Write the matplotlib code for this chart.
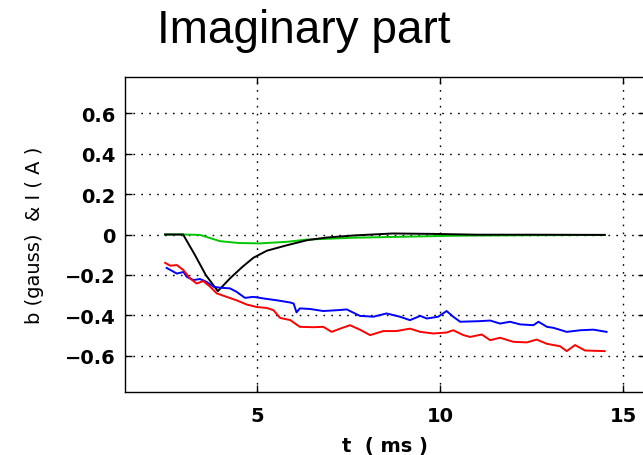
import matplotlib
matplotlib.use("Agg")
import matplotlib.pyplot as plt

plt.rcParams['font.family'] = ['DejaVu Sans']

# Time base and traces (t in ms)
t_black = [2.49, 2.98, 3.3, 3.6, 3.93, 4.26, 4.6, 4.9, 5.27, 5.82, 6.37, 6.9, 7.62,
           8.7, 9.8, 11.0, 12.5, 14.5]
b_black = [0.0, 0.0, -0.1, -0.2, -0.28, -0.217, -0.16, -0.115, -0.08, -0.053, -0.028,
           -0.015, -0.005, 0.005, 0.003, -0.001, -0.001, -0.002]

t_green = [2.49, 3.0, 3.44, 3.99, 4.5, 5.08, 5.82, 6.37, 7.62, 9.0, 10.4, 12.2, 14.5]
b_green = [0.0, 0.0, -0.002, -0.033, -0.042, -0.044, -0.036, -0.025, -0.016, -0.011,
           -0.006, -0.004, -0.002]

t_blue = [2.53, 2.81, 2.99, 3.08, 3.26, 3.44, 3.62, 3.81, 3.99, 4.26, 4.44, 4.67, 4.9,
          5.18, 5.54, 5.91, 6.0, 6.08, 6.17, 6.45, 6.81, 7.27, 7.45, 7.81, 8.18, 8.54,
          8.9, 9.18, 9.46, 9.64, 9.95, 10.18, 10.36, 10.55, 11.09, 11.37, 11.64, 11.91,
          12.19, 12.55, 12.69, 12.92, 13.1, 13.46, 13.83, 14.19, 14.55]
b_blue = [-0.165, -0.193, -0.185, -0.209, -0.225, -0.22, -0.234, -0.258, -0.263, -0.266,
          -0.283, -0.313, -0.308, -0.316, -0.325, -0.336, -0.341, -0.385, -0.365, -0.368,
          -0.378, -0.373, -0.37, -0.402, -0.406, -0.39, -0.406, -0.423, -0.402, -0.415,
          -0.406, -0.378, -0.406, -0.431, -0.428, -0.425, -0.44, -0.431, -0.444, -0.448,
          -0.431, -0.456, -0.461, -0.481, -0.473, -0.47, -0.481]

t_red = [2.49, 2.63, 2.81, 2.99, 3.17, 3.35, 3.53, 3.72, 3.9, 4.17, 4.44, 4.72, 4.99,
         5.27, 5.45, 5.63, 5.91, 6.17, 6.54, 6.81, 7.04, 7.27, 7.54, 7.81, 8.09, 8.45,
         8.81, 9.18, 9.46, 9.82, 10.18, 10.36, 10.64, 10.82, 11.14, 11.37, 11.64, 12.0,
         12.37, 12.64, 12.92, 13.28, 13.46, 13.69, 13.96, 14.5]
b_red = [-0.14, -0.154, -0.151, -0.176, -0.217, -0.242, -0.23, -0.258, -0.291, -0.308,
         -0.325, -0.346, -0.358, -0.363, -0.374, -0.412, -0.423, -0.456, -0.458, -0.456,
         -0.481, -0.465, -0.448, -0.47, -0.497, -0.477, -0.477, -0.465, -0.481, -0.489,
         -0.484, -0.473, -0.497, -0.506, -0.494, -0.522, -0.51, -0.53, -0.533, -0.519,
         -0.54, -0.552, -0.576, -0.546, -0.573, -0.576]

x_ticks = [5, 10, 15]
y_ticks = [-0.6, -0.4, -0.2, 0, 0.2, 0.4, 0.6]
y_labels = ['\u22120.6', '\u22120.4', '\u22120.2', '0', '0.2', '0.4', '0.6']

fig = plt.figure(figsize=(6.43, 4.56), dpi=100)
ax = fig.add_axes([125 / 643, 1 - 393 / 456, 520 / 643, 315 / 456])

ax.plot(t_green, b_green, color='#00c800', lw=1.4)
ax.plot(t_black, b_black, color='black', lw=1.4)
ax.plot(t_blue, b_blue, color='#0000ff', lw=1.4)
ax.plot(t_red, b_red, color='#ff0000', lw=1.4)

ax.set_xlim(1.393, 15.6)
ax.set_ylim(-0.778, 0.778)
ax.set_xticks(x_ticks)
ax.set_yticks(y_ticks)
ax.set_yticklabels(y_labels)
ax.grid(True, color='black', linestyle=(0, (1.2, 4.5)), linewidth=1.0)
ax.tick_params(direction='in', top=True, right=True, length=5, width=1,
               labelsize=14, pad=7)
ax.tick_params(axis='x', pad=10)
for lab in ax.get_xticklabels() + ax.get_yticklabels():
    lab.set_fontweight('bold')
for s in ax.spines.values():
    s.set_linewidth(1.0)

ax.set_xlabel('t  ( ms )', fontsize=14, fontweight='bold', labelpad=8)
ax.set_ylabel('b (gauss)  & I ( A )', fontsize=14, labelpad=15)
fig.text(0.472, 0.932, 'Imaginary part', fontsize=33, ha='center', va='center',
         family='Liberation Sans')

fig.savefig('out.png', dpi=100)
